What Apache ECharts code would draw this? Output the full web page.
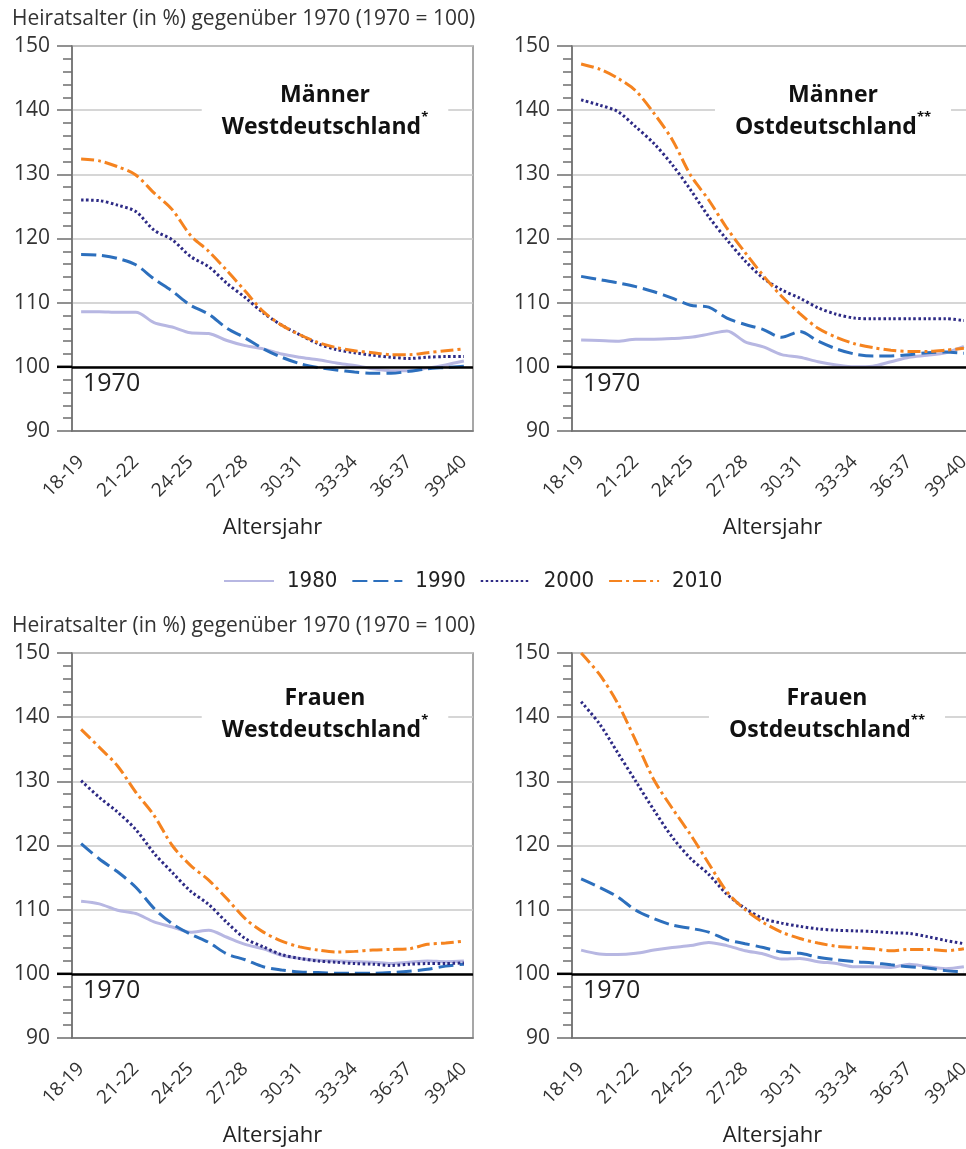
<!DOCTYPE html>
<html>
<head>
<meta charset="utf-8">
<script src="https://cdn.jsdelivr.net/npm/echarts@6/dist/echarts.min.js"></script>
<style>
  html, body { margin: 0; padding: 0; background: #fff; }
  #chart { width: 966px; height: 1149px; }
</style>
</head>
<body>
<div id="chart"></div>
<script>
// Altersjahre (x-Achse)
const ageGroups = ['18-19', '19-20', '20-21', '21-22', '22-23', '23-24', '24-25', '25-26', '26-27', '27-28', '28-29',
  '29-30', '30-31', '31-32', '32-33', '33-34', '34-35', '35-36', '36-37', '37-38', '38-39', '39-40'];
const years = ['1980', '1990', '2000', '2010'];

// Männer Westdeutschland
const menWest1980 = [108.6, 108.6, 108.5, 108.5, 106.9, 106.2, 105.3, 105.2, 104.1, 103.3, 102.8, 102.0, 101.5, 101.1, 100.6, 100.2, 99.7, 99.4, 99.4, 99.8, 100.3, 100.9];
const menWest1990 = [117.5, 117.4, 116.9, 115.9, 113.7, 111.8, 109.6, 108.2, 106.0, 104.5, 102.8, 101.5, 100.5, 99.9, 99.5, 99.2, 99.0, 99.0, 99.3, 99.7, 99.9, 100.1];
const menWest2000 = [126.0, 125.9, 125.2, 124.2, 121.3, 119.8, 117.2, 115.6, 113.0, 110.8, 108.4, 106.5, 105.0, 103.6, 102.7, 102.2, 101.8, 101.5, 101.3, 101.5, 101.6, 101.6];
const menWest2010 = [132.4, 132.1, 131.2, 129.9, 127.1, 124.5, 120.5, 118.0, 115.0, 111.8, 108.6, 106.5, 105.0, 103.8, 103.0, 102.5, 102.2, 101.9, 101.9, 102.2, 102.5, 102.8];

// Männer Ostdeutschland
const menEast1980 = [104.2, 104.1, 104.0, 104.3, 104.3, 104.4, 104.6, 105.1, 105.6, 103.9, 103.1, 101.9, 101.5, 100.8, 100.3, 100.0, 100.1, 100.8, 101.5, 101.8, 102.2, 103.2];
const menEast1990 = [114.1, 113.6, 113.1, 112.5, 111.7, 110.7, 109.6, 109.3, 107.6, 106.6, 105.8, 104.6, 105.5, 104.0, 102.8, 102.0, 101.7, 101.7, 101.9, 102.2, 102.3, 102.1];
const menEast2000 = [141.6, 140.8, 139.8, 137.4, 134.8, 131.5, 127.6, 123.4, 119.8, 116.5, 113.8, 112.0, 110.7, 109.2, 108.2, 107.6, 107.5, 107.5, 107.5, 107.5, 107.5, 107.2];
const menEast2010 = [147.2, 146.4, 145.0, 143.0, 139.5, 135.4, 129.9, 126.0, 121.6, 117.8, 114.2, 111.0, 108.3, 106.0, 104.6, 103.6, 103.0, 102.6, 102.4, 102.4, 102.6, 102.9];

// Frauen Westdeutschland
const womenWest1980 = [111.3, 110.9, 109.9, 109.4, 108.1, 107.3, 106.5, 106.8, 105.7, 104.6, 103.9, 102.9, 102.4, 102.1, 102.0, 101.9, 101.8, 101.6, 101.8, 102.0, 101.9, 102.0];
const womenWest1990 = [120.3, 117.9, 115.9, 113.5, 110.2, 107.8, 106.2, 104.9, 103.1, 102.2, 101.1, 100.6, 100.3, 100.2, 100.1, 100.1, 100.1, 100.2, 100.4, 100.7, 101.2, 101.5];
const womenWest2000 = [130.1, 127.5, 125.2, 122.5, 118.8, 115.8, 112.9, 110.8, 108.0, 105.5, 104.2, 103.0, 102.4, 102.0, 101.8, 101.6, 101.5, 101.3, 101.5, 101.6, 101.6, 101.7];
const womenWest2010 = [138.1, 135.3, 132.4, 128.3, 124.7, 120.0, 116.9, 114.6, 111.7, 108.6, 106.5, 105.1, 104.2, 103.7, 103.4, 103.5, 103.7, 103.8, 103.9, 104.6, 104.8, 105.1];

// Frauen Ostdeutschland
const womenEast1980 = [103.7, 103.1, 103.0, 103.2, 103.7, 104.1, 104.4, 104.9, 104.4, 103.6, 103.1, 102.3, 102.4, 101.9, 101.6, 101.1, 101.1, 101.0, 101.5, 101.1, 100.8, 101.1];
const womenEast1990 = [114.8, 113.5, 112.0, 109.9, 108.6, 107.6, 107.1, 106.5, 105.3, 104.7, 104.1, 103.4, 103.2, 102.6, 102.2, 101.9, 101.7, 101.4, 101.1, 100.9, 100.5, 100.3];
const womenEast2000 = [142.4, 139.0, 134.5, 130.0, 125.5, 121.3, 118.0, 115.5, 112.4, 110.2, 108.6, 107.9, 107.4, 107.0, 106.8, 106.7, 106.6, 106.4, 106.3, 105.8, 105.2, 104.7];
const womenEast2010 = [150.0, 146.7, 142.2, 136.3, 130.2, 125.8, 121.7, 117.2, 112.8, 110.0, 108.0, 106.5, 105.5, 104.8, 104.3, 104.1, 103.9, 103.6, 103.8, 103.8, 103.6, 103.9];

const yAxisTitle = 'Heiratsalter (in %) gegenüber 1970 (1970 = 100)';
const xAxisTitle = 'Altersjahr';

const FONT = "'Open Sans', 'Noto Sans', sans-serif";
const LEGEND_FONT = "'Liberation Sans Narrow', 'DejaVu Sans Condensed', sans-serif";
const AXIS_GRAY = '#6e6e6e';

// Linienstile je Jahrgang
const lineStyles = {
  '1980': { color: '#b7b7e2', width: 3, type: 'solid' },
  '1990': { color: '#2c6fbd', width: 3, type: [15, 6] },
  '2000': { color: '#2d2a85', width: 3, type: [2.5, 2.5] },
  '2010': { color: '#f5831f', width: 3, type: [13, 4, 3, 4] }
};

const panels = [
  { head: 'Männer', region: 'Westdeutschland', mark: '*', left: 72, top: 46, titleX: 325, titleTop: 73,
    series: [menWest1980, menWest1990, menWest2000, menWest2010] },
  { head: 'Männer', region: 'Ostdeutschland', mark: '**', left: 572, top: 46, titleX: 833, titleTop: 73,
    series: [menEast1980, menEast1990, menEast2000, menEast2010] },
  { head: 'Frauen', region: 'Westdeutschland', mark: '*', left: 72, top: 653, titleX: 325, titleTop: 676,
    series: [womenWest1980, womenWest1990, womenWest2000, womenWest2010] },
  { head: 'Frauen', region: 'Ostdeutschland', mark: '**', left: 572, top: 653, titleX: 827, titleTop: 676,
    series: [womenEast1980, womenEast1990, womenEast2000, womenEast2010] }
];

const grid = [], xAxis = [], yAxis = [], series = [];
const headStyle = { fontFamily: FONT, fontSize: 21, fontWeight: 'normal', color: '#333' };
const title = [
  { text: yAxisTitle, left: 12, top: 9, padding: 0, textStyle: headStyle },
  { text: yAxisTitle, left: 12, top: 616, padding: 0, textStyle: headStyle }
];

panels.forEach((p, idx) => {
  grid.push({
    left: p.left, top: p.top, width: 401, height: 385,
    show: true, borderColor: '#8a8a8a', borderWidth: 1.5, backgroundColor: 'transparent',
    outerBoundsMode: 'none'
  });

  xAxis.push({
    type: 'category', gridIndex: idx, data: ageGroups, boundaryGap: true,
    name: xAxisTitle, nameLocation: 'middle', nameGap: idx < 2 ? 86 : 87,
    nameTextStyle: { fontFamily: FONT, fontSize: 22, color: '#222' },
    axisLine: { lineStyle: { color: AXIS_GRAY, width: 1.5 } },
    axisTick: { alignWithLabel: true, interval: 0, length: 9, lineStyle: { color: AXIS_GRAY, width: 1.5 } },
    axisLabel: { interval: 2, rotate: 45, margin: 28, fontFamily: FONT, fontSize: 19, color: '#333' },
    splitLine: { show: false }
  });

  yAxis.push({
    type: 'value', gridIndex: idx, min: 90, max: 150, interval: 10,
    axisLine: { show: true, lineStyle: { color: AXIS_GRAY, width: 1.5 } },
    axisTick: { show: true, length: 15, lineStyle: { color: AXIS_GRAY, width: 1.5 } },
    minorTick: { show: true, splitNumber: 5, length: 9, lineStyle: { color: AXIS_GRAY, width: 1.5 } },
    axisLabel: { margin: 22, fontFamily: FONT, fontSize: 21, color: '#333' },
    splitLine: { show: true, lineStyle: { color: '#c8c8c8', width: 1.5 } }
  });

  // Panel-Überschrift mit weißem Hintergrund (unterbricht die 140er-Linie)
  title.push({
    text: '{a|' + p.head + '}\n{a|' + p.region + '}{s|' + p.mark + '}',
    left: p.titleX - 20, top: p.titleTop, textAlign: 'center',
    backgroundColor: '#fff', padding: [6, 20],
    textStyle: {
      rich: {
        a: { fontFamily: FONT, fontSize: 23, fontWeight: 'bold', color: '#111', lineHeight: 32 },
        s: { fontFamily: FONT, fontSize: 13, fontWeight: 'bold', color: '#111', lineHeight: 32, verticalAlign: 'top' }
      }
    }
  });

  p.series.forEach((values, k) => {
    const year = years[k];
    const s = {
      name: year, type: 'line', xAxisIndex: idx, yAxisIndex: idx,
      data: values, symbol: 'none', smooth: 0.3,
      lineStyle: lineStyles[year], itemStyle: { color: lineStyles[year].color },
      z: 3 + k
    };
    // schwarze 1970-Referenzlinie
    if (k === 0) {
      s.markLine = {
        silent: true, symbol: ['none', 'none'],
        lineStyle: { color: '#000', width: 2.5, type: 'solid' },
        label: { show: true, position: 'insideStartBottom', formatter: '1970', fontFamily: FONT, fontSize: 25, color: '#222', distance: 5, padding: [0, 0, 0, 6] },
        data: [{ yAxis: 100 }]
      };
    }
    series.push(s);
  });
});

const chart = echarts.init(document.getElementById('chart'));
chart.setOption({
  animation: false,
  backgroundColor: '#fff',
  title: title,
  legend: {
    data: years, left: 218, top: 565,
    itemWidth: 50, itemHeight: 14, itemGap: 14,
    itemStyle: { opacity: 0 },
    textStyle: { fontFamily: LEGEND_FONT, fontSize: 22, color: '#222', padding: [0, 0, 0, 8] }
  },
  grid: grid,
  xAxis: xAxis,
  yAxis: yAxis,
  series: series
});

// 100er-Linie links über die Achse hinaus verlängern (wie Hauptstrich)
chart.setOption({
  graphic: panels.map((p, idx) => {
    const y = chart.convertToPixel({ yAxisIndex: idx }, 100);
    return {
      type: 'line', silent: true, z: 10,
      shape: { x1: p.left - 15, y1: y, x2: p.left, y2: y },
      style: { stroke: '#000', lineWidth: 2.5 }
    };
  })
});
</script>
</body>
</html>
